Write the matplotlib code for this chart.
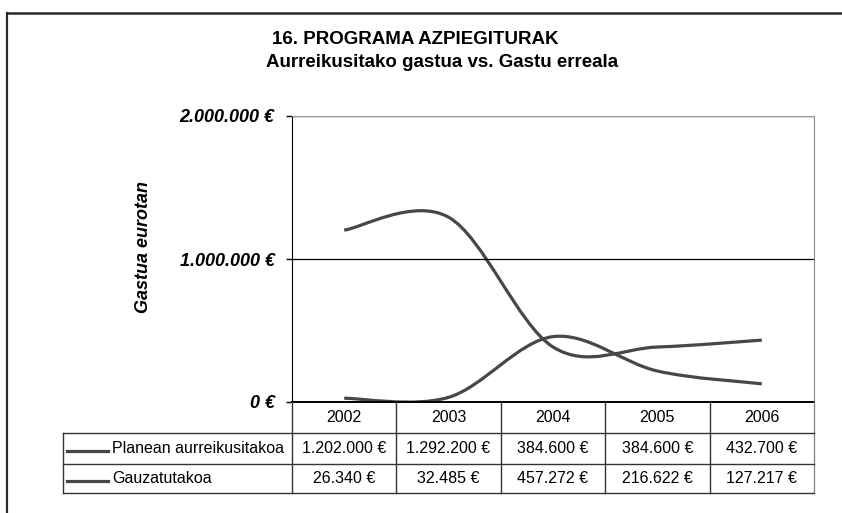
import numpy as np
import matplotlib
matplotlib.use("Agg")
from matplotlib import pyplot as plt
from matplotlib.path import Path
from matplotlib.patches import PathPatch
from matplotlib.lines import Line2D

plt.rcParams['font.family'] = ['Liberation Sans', 'DejaVu Sans']

# data
years = ["2002", "2003", "2004", "2005", "2006"]
series_names = ["Planean aurreikusitakoa", "Gauzatutakoa"]
planned = [1202000, 1292200, 384600, 384600, 432700]
executed = [26340, 32485, 457272, 216622, 127217]
y_ticks = [0, 1000000, 2000000]

title1 = "16. PROGRAMA AZPIEGITURAK"
title2 = "Aurreikusitako gastua vs. Gastu erreala"
ylabel = "Gastua eurotan"

W, H = 842, 513
line_col = "#474747"

def euro(v):
    return f"{v:,}".replace(",", ".") + " €"

def fx(px):
    return px / W

def fy(py):
    return 1 - py / H

def smooth_path(xs, ys):
    # excel style smoothed line: bezier through the points
    pts = np.column_stack([xs, ys]).astype(float)
    n = len(pts)
    verts = [pts[0]]
    codes = [Path.MOVETO]
    for i in range(n - 1):
        p0 = pts[max(i - 1, 0)]
        p1 = pts[i]
        p2 = pts[i + 1]
        p3 = pts[min(i + 2, n - 1)]
        c1 = p1 + (p2 - p0) / 6
        c2 = p2 - (p3 - p1) / 6
        verts += [c1, c2, p2]
        codes += [Path.CURVE4] * 3
    return Path(verts, codes)

fig = plt.figure(figsize=(W / 100, H / 100), dpi=100)

# plot area in pixels
left, right, top, bottom = 292, 814, 116, 402
ax = fig.add_axes([fx(left), fy(bottom), fx(right - left), (bottom - top) / H])
ax.set_xlim(-0.5, len(years) - 0.5)
ax.set_ylim(0, 2000000)

x = np.arange(len(years))
for vals in (planned, executed):
    ax.add_patch(PathPatch(smooth_path(x, vals), fill=False, edgecolor=line_col,
                           lw=2.3, capstyle='butt', joinstyle='round'))

ax.set_yticks(y_ticks)
ax.set_yticklabels([euro(v) for v in y_ticks], fontsize=13, fontweight='bold', style='italic')
ax.tick_params(axis='y', direction='out', length=4.5, width=1, color='black', pad=8)
ax.set_xticks([])
ax.grid(axis='y', color='black', lw=0.9)
ax.spines['left'].set_color('black')
ax.spines['bottom'].set_color('black')
ax.spines['bottom'].set_linewidth(1.4)
ax.spines['top'].set_color('#9a9a9a')
ax.spines['right'].set_color('#8a8a8a')

fig.text(fx(143), fy(247), ylabel, rotation=90, ha='center', va='center',
         fontsize=13, fontweight='bold', style='italic')

fig.text(fx(272), fy(40), title1, ha='left', va='center', fontsize=13.5, fontweight='bold')
fig.text(fx(266), fy(63), title2, ha='left', va='center', fontsize=13.5, fontweight='bold')

# outer frame
fig.add_artist(Line2D([fx(7), fx(842)], [fy(13), fy(13)], color='#2a2a2a', lw=1.8))
fig.add_artist(Line2D([fx(7), fx(7)], [fy(13), fy(513)], color='#2a2a2a', lw=1.6))

# data table
tcol = '#333333'
tab_left = 63
rows_y = [402, 433, 464, 493]
colw = (right - left) / len(years)
for i in range(len(years) + 1):
    cx = left + i * colw
    c = '#8a8a8a' if i == len(years) else tcol
    fig.add_artist(Line2D([fx(cx), fx(cx)], [fy(rows_y[0]), fy(rows_y[-1])], color=c, lw=1))
for ry in rows_y[1:]:
    fig.add_artist(Line2D([fx(tab_left), fx(right)], [fy(ry), fy(ry)], color=tcol, lw=1))
fig.add_artist(Line2D([fx(tab_left), fx(tab_left)], [fy(rows_y[1]), fy(rows_y[-1])], color=tcol, lw=1))

hy = (rows_y[0] + rows_y[1]) / 2
for i, yr in enumerate(years):
    fig.text(fx(left + (i + 0.5) * colw), fy(hy), yr, ha='center', va='center', fontsize=11.5)

for r, (name, vals) in enumerate(zip(series_names, (planned, executed))):
    cy = (rows_y[r + 1] + rows_y[r + 2]) / 2
    fig.add_artist(Line2D([fx(67), fx(108)], [fy(cy + 2), fy(cy + 2)], color=line_col, lw=2.3))
    fig.text(fx(112), fy(cy), name, ha='left', va='center', fontsize=11.5)
    for i, v in enumerate(vals):
        fig.text(fx(left + (i + 0.5) * colw), fy(cy), euro(v), ha='center', va='center', fontsize=11.5)

fig.savefig("out.png", dpi=100)
